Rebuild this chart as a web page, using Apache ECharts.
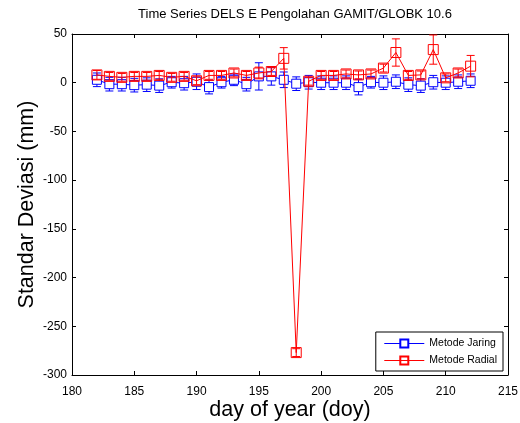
<!DOCTYPE html>
<html>
<head>
<meta charset="utf-8">
<script src="https://cdn.jsdelivr.net/npm/echarts@6/dist/echarts.min.js"></script>
<style>
html, body { margin: 0; padding: 0; background: #fff; }
#main { width: 520px; height: 423px; }
</style>
</head>
<body>
<div id="main"></div>
<script>
// hari (doy)
var days = [182, 183, 184, 185, 186, 187, 188, 189, 190, 191, 192, 193, 194, 195, 196, 197,
            198, 199, 200, 201, 202, 203, 204, 205, 206, 207, 208, 209, 210, 211, 212];
// Metode Jaring
var jaring = [3, -1.5, -1.5, -2.5, -2, -3, 0.5, -0.5, 1, -4.5, 0.5, 3, -1.5, 6.5, 6.5, 3,
              -1, 0.5, 0, 0, 0, -4.5, 0.5, 0, 1, -2, -3, 0.5, 0, 1, 2];
var jaringErr = [7, 7, 7, 7, 7, 7, 6, 7, 8, 7, 6, 6, 7, 14, 9, 8,
                 7, 7, 7, 7, 7, 8, 6, 7, 7, 7, 7, 7, 7, 7, 7];
// Metode Radial
var radial = [8, 6.5, 5.5, 6.5, 6.5, 7.5, 5.5, 6.5, 2, 7.5, 7.5, 10, 7.5, 10, 11.5, 25,
              -277, 1.5, 7.5, 7.5, 9, 8, 9, 15, 31, 7.5, 8, 34, 5, 10, 17];
var radialErr = [4.5, 4, 4, 4, 4, 4, 4, 4, 4, 4, 4, 4, 4, 6, 4, 11,
                 4, 4, 4, 4, 4, 4, 4, 4, 14, 4, 4, 15, 4, 4, 11];

var xTicks = [180, 215, 5];
var yTicks = [-300, 50, 50];

var myChart = echarts.init(document.getElementById('main'));

function pts(vals) {
    return days.map(function (d, i) { return [d, vals[i]]; });
}
function errs(vals, e) {
    return days.map(function (d, i) { return [d, vals[i] - e[i], vals[i] + e[i]]; });
}
function errBar(color) {
    return function (params, api) {
        var lo = api.coord([api.value(0), api.value(1)]);
        var hi = api.coord([api.value(0), api.value(2)]);
        var w = 4;
        var st = { stroke: color, lineWidth: 1 };
        return {
            type: 'group',
            children: [
                { type: 'line', shape: { x1: lo[0], y1: lo[1], x2: hi[0], y2: hi[1] }, style: st },
                { type: 'line', shape: { x1: lo[0] - w, y1: lo[1], x2: lo[0] + w, y2: lo[1] }, style: st },
                { type: 'line', shape: { x1: hi[0] - w, y1: hi[1], x2: hi[0] + w, y2: hi[1] }, style: st }
            ]
        };
    };
}

var font = 'Liberation Sans, Arial, sans-serif';
var axisBase = {
    type: 'value',
    axisLine: { show: true, onZero: false, lineStyle: { color: '#000', width: 1 } },
    axisTick: { show: true, inside: true, length: 4, lineStyle: { color: '#000' } },
    splitLine: { show: false },
    axisLabel: { color: '#000', fontSize: 12, fontFamily: font }
};

myChart.setOption({
    animation: false,
    backgroundColor: '#fff',
    title: {
        text: 'Time Series DELS E Pengolahan GAMIT/GLOBK 10.6',
        left: 290, top: 3, textAlign: 'center',
        textStyle: { fontSize: 13, fontWeight: 'normal', color: '#000', fontFamily: font }
    },
    grid: { left: 72, right: 12, top: 34, bottom: 48, outerBoundsMode: 'none', containLabel: false },
    legend: {
        data: ['Metode Jaring', 'Metode Radial'],
        orient: 'vertical',
        right: 17, top: 332,
        itemWidth: 40, itemHeight: 10, itemGap: 6,
        padding: [6, 6, 5, 8],
        backgroundColor: '#fff',
        borderColor: '#000', borderWidth: 1,
        lineStyle: { width: 1 },
        textStyle: { fontSize: 10.5, color: '#000', fontFamily: font }
    },
    xAxis: [
        echarts.util.merge({
            min: xTicks[0], max: xTicks[1], interval: xTicks[2],
            position: 'bottom',
            axisLabel: { margin: 11 },
            name: 'day of year (doy)', nameLocation: 'middle', nameGap: 24,
            nameMoveOverlap: false,
            nameTextStyle: { fontSize: 21.5, color: '#000', fontFamily: font }
        }, axisBase, false),
        echarts.util.merge({
            min: xTicks[0], max: xTicks[1], interval: xTicks[2],
            position: 'top'
        }, echarts.util.merge({ axisLabel: { show: false } }, axisBase), true)
    ],
    yAxis: [
        echarts.util.merge({
            min: yTicks[0], max: yTicks[1], interval: yTicks[2],
            position: 'left',
            axisLabel: { margin: 5 },
            name: 'Standar Deviasi (mm)', nameLocation: 'middle', nameGap: 34,
            nameMoveOverlap: false,
            nameTextStyle: { fontSize: 21.5, color: '#000', fontFamily: font }
        }, axisBase, false),
        echarts.util.merge({
            min: yTicks[0], max: yTicks[1], interval: yTicks[2],
            position: 'right'
        }, echarts.util.merge({ axisLabel: { show: false } }, axisBase), true)
    ],
    series: [
        {
            name: 'Metode Jaring', type: 'line', data: pts(jaring),
            symbol: 'rect', symbolSize: 9, showAllSymbol: true,
            itemStyle: { color: '#fff', borderColor: '#0000ff', borderWidth: 1 },
            lineStyle: { color: '#0000ff', width: 1 },
            z: 3
        },
        {
            name: 'Metode Jaring', type: 'custom', data: errs(jaring, jaringErr),
            renderItem: errBar('#0000ff'), z: 2
        },
        {
            name: 'Metode Radial', type: 'line', data: pts(radial),
            symbol: 'rect', symbolSize: 10, showAllSymbol: true,
            itemStyle: { color: 'rgba(255,255,255,0)', borderColor: '#ff0000', borderWidth: 1 },
            lineStyle: { color: '#ff0000', width: 1 },
            z: 5
        },
        {
            name: 'Metode Radial', type: 'custom', data: errs(radial, radialErr),
            renderItem: errBar('#ff0000'), z: 4
        }
    ]
});
</script>
</body>
</html>
